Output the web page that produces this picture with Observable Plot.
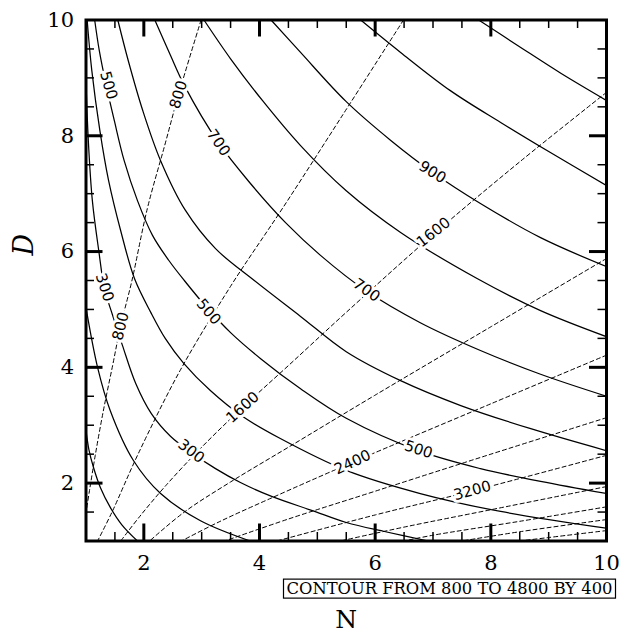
<!DOCTYPE html>
<html>
<head>
<meta charset="utf-8">
<script src="https://cdn.jsdelivr.net/npm/d3@7"></script>
<script src="https://cdn.jsdelivr.net/npm/@observablehq/plot@0.6"></script>
<style>
  html, body { margin: 0; padding: 0; background: #fff; }
  #chart svg { display: block; }
</style>
</head>
<body>
<div id="chart"></div>
<script>
// ---- axis ticks ----
const xTickLabels = [2, 4, 6, 8, 10];
const yTickLabels = [2, 4, 6, 8, 10];
const xMajor = [2, 4, 6, 8];
const yMajor = [2, 4, 6, 8];
const xMinor = [1.5, 2.5, 3, 3.5, 4.5, 5, 5.5, 6.5, 7, 7.5, 8.5, 9, 9.5];
const yMinor = [1.5, 2.5, 3, 3.5, 4.5, 5, 5.5, 6.5, 7, 7.5, 8.5, 9, 9.5];

// ---- solid contours: [N, D] points ----
const solid100 = [[1,2.91],[1.05,2.58],[1.13,2.27],[1.25,1.92],[1.42,1.58],[1.62,1.28],[1.89,1.0]];
const solid200 = [[1,5.03],[1.2,4.0],[1.42,3.25],[1.82,2.39],[2.29,1.82],[2.98,1.35],[3.84,1.0]];
const solid300 = [[1,8.95],[1.04,7.92],[1.11,6.88],[1.22,6.02],[1.32,5.36],[1.46,4.9],[1.63,4.38],[1.86,3.72],[2.13,3.2],[2.46,2.81],[2.82,2.53],[3.24,2.25],[3.67,2.01],[4.21,1.77],[4.9,1.53],[5.5,1.32],[6.18,1.16],[6.92,1.0]];
const solid400 = [[1.02,10],[1.1,9.13],[1.24,8.09],[1.39,7.23],[1.6,6.36],[1.84,5.53],[2.12,4.95],[2.37,4.5],[2.69,4.07],[3.15,3.6],[3.71,3.15],[4.36,2.77],[5.5,2.22],[6.78,1.82],[8.17,1.51],[10,1.22]];
const solid500 = [[1.15,10],[1.23,9.47],[1.35,8.87],[1.49,8.26],[1.66,7.57],[1.89,6.88],[2.15,6.28],[2.43,5.85],[2.7,5.5],[3.1,5.02],[3.5,4.6],[4.02,4.15],[4.71,3.63],[5.5,3.12],[6.75,2.56],[7.82,2.25],[8.86,2.03],[10,1.82]];
const solid600 = [[1.55,10],[1.73,9.3],[1.98,8.44],[2.29,7.57],[2.72,6.71],[3.24,6.05],[3.91,5.5],[4.71,4.88],[5.5,4.27],[6.44,3.77],[7.48,3.34],[8.69,2.94],[10,2.56]];
const solid700 = [[2.19,10],[2.46,9.39],[2.7,8.87],[3.29,7.88],[3.84,7.18],[4.45,6.5],[5.06,5.93],[5.83,5.33],[6.78,4.77],[7.82,4.29],[8.86,3.88],[10,3.5]];
const solid800 = [[3.04,10],[3.5,9.33],[4.05,8.61],[4.71,7.83],[5.5,7.05],[6.44,6.33],[7.77,5.53],[8.86,4.98],[10,4.53]];
const solid900 = [[4.2,10],[4.71,9.44],[5.5,8.59],[6.27,7.92],[6.99,7.37],[7.82,6.83],[8.86,6.24],[10,5.74]];
const solid1000 = [[5.75,10],[6.44,9.44],[7.3,8.78],[8.17,8.23],[9.03,7.71],[10,7.14]];
const solid1100 = [[7.79,10],[8.51,9.53],[9.21,9.08],[10,8.61]];

// ---- dashed contours (800 to 4800 by 400) ----
const dash800 = [[2.99,10],[2.6,8.71],[2.36,7.83],[2.06,6.74],[1.79,5.48],[1.6,4.72],[1.46,4.03],[1.3,3.25],[1.16,2.48],[1.06,1.87],[1,1.49]];
const dash1200 = [[6.49,10],[5.4,8.3],[4.4,6.75],[3.5,5.4],[2.63,3.95],[1.9,2.5],[1.45,1.5],[1.2,1.0]];
const dash1600 = [[10,8.75],[8.5,7.55],[7.01,6.3],[5.5,4.95],[4.5,4.03],[3.71,3.31],[3.0,2.62],[2.4,1.98],[1.95,1.45],[1.6,1.0]];
const dash2000 = [[10,5.88],[8,4.7],[6,3.52],[4.5,2.62],[3.5,2.02],[2.7,1.5],[2.1,1.0]];
const dash2400 = [[10,4.21],[8,3.37],[5.61,2.36],[4.2,1.74],[3.3,1.33],[2.65,1.0]];
const dash2800 = [[10,3.13],[8,2.5],[6,1.86],[4.5,1.38],[3.4,1.0]];
const dash3200 = [[10,2.48],[7.7,1.87],[6,1.45],[4.3,1.0]];
const dash3600 = [[10,1.94],[8,1.54],[6.5,1.24],[5.4,1.0]];
const dash4000 = [[10,1.59],[8.5,1.34],[7,1.1],[6.5,1.0]];
const dash4400 = [[10,1.37],[8.5,1.16],[7.5,1.0]];
const dash4800 = [[10,1.18],[9,1.06],[8.5,1.0]];

// ---- contour labels: [text, N, D] ----
const solidLabels = [["500",1.39,8.87],["300",1.32,5.38],["500",3.12,4.96],["700",3.29,7.88],["300",2.82,2.55],["700",5.85,5.33],["900",6.99,7.37],["500",6.75,2.58]];
const dashLabels = [["800",2.60,8.71],["800",1.60,4.71],["1600",3.71,3.31],["1600",7.01,6.33],["2400",5.61,2.36],["3200",7.68,1.87]];
const solidLabelAngles = [74, 72, 50, 55, 38, 35, 32, 18];
const dashLabelAngles = [-73, -76, -42, -38, -25, -15];

const captionText = "CONTOUR FROM 800 TO 4800 BY 400";
const xTitle = "N";
const yTitle = "D";

// build line tables
const solidCurves = [solid100, solid200, solid300, solid400, solid500, solid600, solid700, solid800, solid900, solid1000, solid1100];
const dashCurves = [dash800, dash1200, dash1600, dash2000, dash2400, dash2800, dash3200, dash3600, dash4000, dash4400, dash4800];
const solidRows = solidCurves.flatMap((c, k) => c.map(([n, d]) => ({n, d, k})));
const dashRows = dashCurves.flatMap((c, k) => c.map(([n, d]) => ({n, d, k})));

const frameW = 619 - 85.5 - 13;
const frameH = 636 - 19.5 - 95.5;
const majorLen = 17, minorLen = 8.5;

const chart = Plot.plot({
  width: 619,
  height: 636,
  marginTop: 19.5,
  marginLeft: 85.5,
  marginRight: 13,
  marginBottom: 95.5,
  x: {domain: [1, 10]},
  y: {domain: [1, 10]},
  style: {fontFamily: "DejaVu Serif", background: "#fff", overflow: "visible", color: "#000"},
  marks: [
    Plot.line(dashRows, {x: "n", y: "d", z: "k", curve: "catmull-rom", stroke: "#000", strokeWidth: 1, strokeDasharray: "4,3", clip: true}),
    Plot.line(solidRows, {x: "n", y: "d", z: "k", curve: "catmull-rom", stroke: "#000", strokeWidth: 1.25, clip: true}),
    Plot.text(solidLabels, {x: d => d[1], y: d => d[2], text: d => d[0], rotate: (d, i) => solidLabelAngles[i],
      fontFamily: "DejaVu Sans", fontSize: 15, fill: "#000", stroke: "#fff", strokeWidth: 6}),
    Plot.text(dashLabels, {x: d => d[1], y: d => d[2], text: d => d[0], rotate: (d, i) => dashLabelAngles[i],
      fontFamily: "DejaVu Sans", fontSize: 15, fill: "#000", stroke: "#fff", strokeWidth: 6}),
    // inward ticks on all four sides
    Plot.tickX(xMajor, {x: d => d, insetTop: frameH - majorLen, strokeWidth: 3, stroke: "#000"}),
    Plot.tickX(xMajor, {x: d => d, insetBottom: frameH - majorLen, strokeWidth: 3, stroke: "#000"}),
    Plot.tickX(xMinor, {x: d => d, insetTop: frameH - minorLen, strokeWidth: 1.5, stroke: "#000"}),
    Plot.tickX(xMinor, {x: d => d, insetBottom: frameH - minorLen, strokeWidth: 1.5, stroke: "#000"}),
    Plot.tickY(yMajor, {y: d => d, insetRight: frameW - majorLen, strokeWidth: 3, stroke: "#000"}),
    Plot.tickY(yMajor, {y: d => d, insetLeft: frameW - majorLen, strokeWidth: 3, stroke: "#000"}),
    Plot.tickY(yMinor, {y: d => d, insetRight: frameW - minorLen, strokeWidth: 1.5, stroke: "#000"}),
    Plot.tickY(yMinor, {y: d => d, insetLeft: frameW - minorLen, strokeWidth: 1.5, stroke: "#000"}),
    Plot.frame({stroke: "#000", strokeWidth: 3}),
    Plot.axisX({ticks: xTickLabels, anchor: "bottom", tickSize: 0, tickPadding: 14, fontSize: 21, label: null}),
    Plot.axisY({ticks: yTickLabels, anchor: "left", tickSize: 0, tickPadding: 12, fontSize: 21, label: null}),
    Plot.text([xTitle], {text: d => d, frameAnchor: "bottom", dy: 79, fontSize: 25, lineAnchor: "middle"}),
    Plot.text([yTitle], {text: d => d, frameAnchor: "left", dx: -62, dy: -25, rotate: -90, fontSize: 27, fontStyle: "italic", lineAnchor: "middle"}),
    Plot.text([captionText], {text: d => d, frameAnchor: "bottom-right", dx: 6, dy: 48, textAnchor: "end", lineAnchor: "middle",
      fontSize: 16, fontFamily: "DejaVu Serif"})
  ]
});

document.getElementById("chart").append(chart);

// box around the info label (same local coordinates as the text)
const capNode = Array.from(chart.querySelectorAll("text")).find(t => t.textContent === captionText);
if (capNode) {
  capNode.setAttribute("textLength", "326");
  capNode.setAttribute("lengthAdjust", "spacingAndGlyphs");
  const bb = capNode.getBBox();
  const rect = d3.select(capNode.parentNode).insert("rect", () => capNode)
    .attr("x", bb.x - 3).attr("y", bb.y)
    .attr("width", bb.width + 6).attr("height", bb.height)
    .attr("fill", "#fff").attr("stroke", "#000").attr("stroke-width", 1.2);
  const tf = capNode.getAttribute("transform");
  if (tf) rect.attr("transform", tf);
}
</script>
</body>
</html>
